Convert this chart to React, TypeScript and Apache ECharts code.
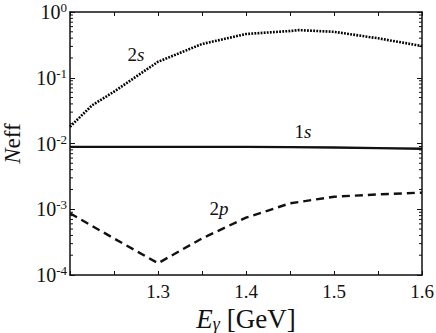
import React, { useEffect, useRef } from "react";
import * as echarts from "echarts";

const energies = [1.2, 1.225, 1.25, 1.3, 1.35, 1.4, 1.45, 1.46, 1.5, 1.55, 1.6];
const neff2s = [0.018, 0.038, 0.0614, 0.175, 0.326, 0.463, 0.514, 0.53, 0.5, 0.398, 0.304];
const energies1s = [1.2, 1.25, 1.3, 1.35, 1.4, 1.45, 1.5, 1.55, 1.6];
const neff1s = [0.0089, 0.0089, 0.0089, 0.0089, 0.0089, 0.0088, 0.0087, 0.0085, 0.0083];
const energies2p = [1.2, 1.25, 1.3, 1.35, 1.4, 1.45, 1.5, 1.55, 1.6];
const neff2p = [0.000867, 0.00036, 0.000151, 0.00036, 0.000744, 0.00123, 0.00155, 0.00168, 0.00179];
const minorLogTicks = [-4, -3, -2, -1].flatMap((k) =>
  [2, 3, 4, 5, 6, 7, 8, 9].map((m) => m * Math.pow(10, k))
);

const FONT = "Liberation Serif";

export default function App() {
  const ref = useRef<HTMLDivElement>(null);
  useEffect(() => {
    if (!ref.current) return;
    const chart = echarts.init(ref.current, null, { renderer: "svg" });
    const axisLineStyle = { color: "#111", width: 1.5 };
    const yLabelRich = {
      b: { fontFamily: FONT, fontSize: 20, color: "#111" },
      s: { fontFamily: FONT, fontSize: 13, color: "#111", padding: [0, 0, 9, 0] },
    };
    const annRich = {
      n: { fontFamily: FONT, fontSize: 19, fill: "#111" },
      i: { fontFamily: FONT, fontSize: 19, fontStyle: "italic", fill: "#111" },
    };
    chart.setOption({
      animation: false,
      textStyle: { fontFamily: FONT, color: "#111" },
      grid: { left: 70, right: 14, top: 12, bottom: 58, containLabel: false, outerBoundsMode: "none" },
      xAxis: [
        {
          type: "value",
          min: 1.2,
          max: 1.6,
          interval: 0.05,
          axisLine: { lineStyle: axisLineStyle },
          axisTick: { inside: true, length: 4, lineStyle: { color: "#111", width: 1 } },
          splitLine: { show: false },
          axisLabel: {
            fontFamily: FONT,
            fontSize: 19,
            color: "#111",
            margin: 7,
            formatter: (v: number) => {
              const t = v * 10;
              if (Math.abs(t - Math.round(t)) > 1e-6) return "";
              if (Math.abs(v - 1.2) < 1e-6) return "";
              return v.toFixed(1);
            },
          },
          name: "{i|E}{g|γ}{n| [GeV]}",
          nameLocation: "middle",
          nameGap: 26,
          nameTextStyle: {
            rich: {
              i: { fontFamily: FONT, fontSize: 27, fontStyle: "italic", color: "#111" },
              g: { fontFamily: FONT, fontSize: 18, fontStyle: "italic", color: "#111", padding: [10, 0, 0, 0] },
              n: { fontFamily: FONT, fontSize: 27, color: "#111" },
            },
          },
        },
        {
          type: "value",
          position: "top",
          min: 1.2,
          max: 1.6,
          interval: 0.05,
          axisLine: { lineStyle: axisLineStyle },
          axisTick: { inside: true, length: 4, lineStyle: { color: "#111", width: 1 } },
          axisLabel: { show: false },
          splitLine: { show: false },
        },
      ],
      yAxis: [
        {
          type: "log",
          min: 1e-4,
          max: 1,
          logBase: 10,
          axisLine: { show: true, lineStyle: axisLineStyle },
          axisTick: { show: true, inside: true, length: 5, lineStyle: { color: "#111", width: 1 } },
          splitLine: { show: false },
          axisLabel: {
            margin: 3,
            fontFamily: FONT,
            color: "#111",
            formatter: (v: number) => `{b|10}{s|${Math.round(Math.log10(v))}}`,
            rich: yLabelRich,
          },
          name: "{i|N}{n|eff}",
          nameLocation: "middle",
          nameRotate: 90,
          nameGap: 46,
          nameTextStyle: {
            rich: {
              i: { fontFamily: FONT, fontSize: 23, lineHeight: 23, fontStyle: "italic", color: "#111" },
              n: { fontFamily: FONT, fontSize: 23, lineHeight: 23, color: "#111" },
            },
          },
        },
        {
          type: "log",
          position: "right",
          min: 1e-4,
          max: 1,
          logBase: 10,
          axisLine: { show: true, lineStyle: axisLineStyle },
          axisTick: { show: true, inside: true, length: 5, lineStyle: { color: "#111", width: 1 } },
          axisLabel: { show: false },
          splitLine: { show: false },
        },
      ],
      series: [
        {
          type: "line",
          name: "2s",
          data: energies.map((e, i) => [e, neff2s[i]]),
          showSymbol: false,
          lineStyle: { color: "#000", width: 2.6, type: [1.8, 1.3] },
        },
        {
          type: "line",
          name: "1s",
          data: energies1s.map((e, i) => [e, neff1s[i]]),
          showSymbol: false,
          lineStyle: { color: "#111", width: 2.4, type: "solid" },
        },
        {
          type: "line",
          name: "2p",
          data: energies2p.map((e, i) => [e, neff2p[i]]),
          showSymbol: false,
          lineStyle: { color: "#111", width: 2.4, type: [8, 5] },
        },
        {
          type: "custom",
          name: "minorTicks",
          coordinateSystem: "cartesian2d",
          xAxisIndex: 0,
          yAxisIndex: 0,
          clip: false,
          silent: true,
          data: minorLogTicks.map((v) => [1.3, v]),
          encode: { x: 0, y: 1 },
          renderItem: (params: any, api: any) => {
            const v = api.value(1);
            const l = api.coord([1.2, v]);
            const r = api.coord([1.6, v]);
            return {
              type: "group",
              children: [
                {
                  type: "line",
                  shape: { x1: l[0], y1: l[1], x2: l[0] + 3, y2: l[1] },
                  style: { stroke: "#111", lineWidth: 1 },
                },
                {
                  type: "line",
                  shape: { x1: r[0], y1: r[1], x2: r[0] - 3, y2: r[1] },
                  style: { stroke: "#111", lineWidth: 1 },
                },
              ],
            };
          },
        },
      ],
      graphic: [
        {
          type: "text",
          x: 136,
          y: 54,
          style: { text: "{n|2}{i|s}", align: "center", verticalAlign: "middle", rich: annRich },
        },
        {
          type: "text",
          x: 303,
          y: 131,
          style: { text: "{n|1}{i|s}", align: "center", verticalAlign: "middle", rich: annRich },
        },
        {
          type: "text",
          x: 219,
          y: 208,
          style: { text: "{n|2}{i|p}", align: "center", verticalAlign: "middle", rich: annRich },
        },
      ],
    });
    return () => chart.dispose();
  }, []);
  return (
    <div
      ref={ref}
      style={{ position: "fixed", left: 0, top: 0, width: 436, height: 333, background: "#fff" }}
    />
  );
}
